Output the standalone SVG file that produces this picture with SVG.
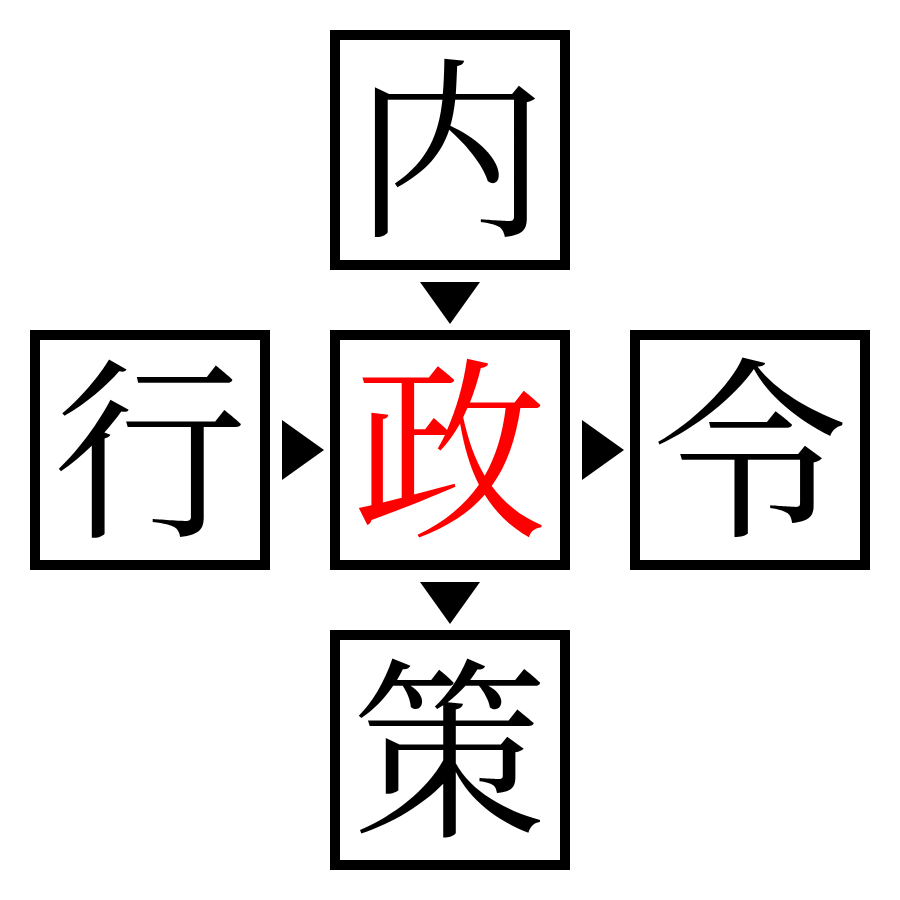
<svg xmlns="http://www.w3.org/2000/svg" width="900" height="900" viewBox="0 0 900 900">
<style>
.box{fill:#fff;stroke:#000;stroke-width:10}
.ch{font-family:"Noto Serif CJK JP","Noto Serif CJK SC","Noto Sans CJK JP",serif;font-size:194px;text-anchor:middle;dominant-baseline:central;fill:#000}
.red{fill:#ff0000}
.arr{fill:#000}
</style>
<rect width="900" height="900" fill="#fff"/>
<g id="connectors">
<polygon class="arr" points="420,282 480,282 450,324"/>
<polygon class="arr" points="282,420 282,480 324,450"/>
<polygon class="arr" points="582,420 582,480 624,450"/>
<polygon class="arr" points="420,582 480,582 450,624"/>
</g>
<g id="node-top"><rect class="box" x="335" y="35" width="230" height="230"/><text class="ch" x="450" y="138">内</text></g>
<g id="node-left"><rect class="box" x="35" y="335" width="230" height="230"/><text class="ch" x="150" y="438">行</text></g>
<g id="node-center"><rect class="box" x="335" y="335" width="230" height="230"/><text class="ch red" x="450" y="438">政</text></g>
<g id="node-right"><rect class="box" x="635" y="335" width="230" height="230"/><text class="ch" x="750" y="438">令</text></g>
<g id="node-bottom"><rect class="box" x="335" y="635" width="230" height="230"/><text class="ch" x="450" y="738">策</text></g>
</svg>
